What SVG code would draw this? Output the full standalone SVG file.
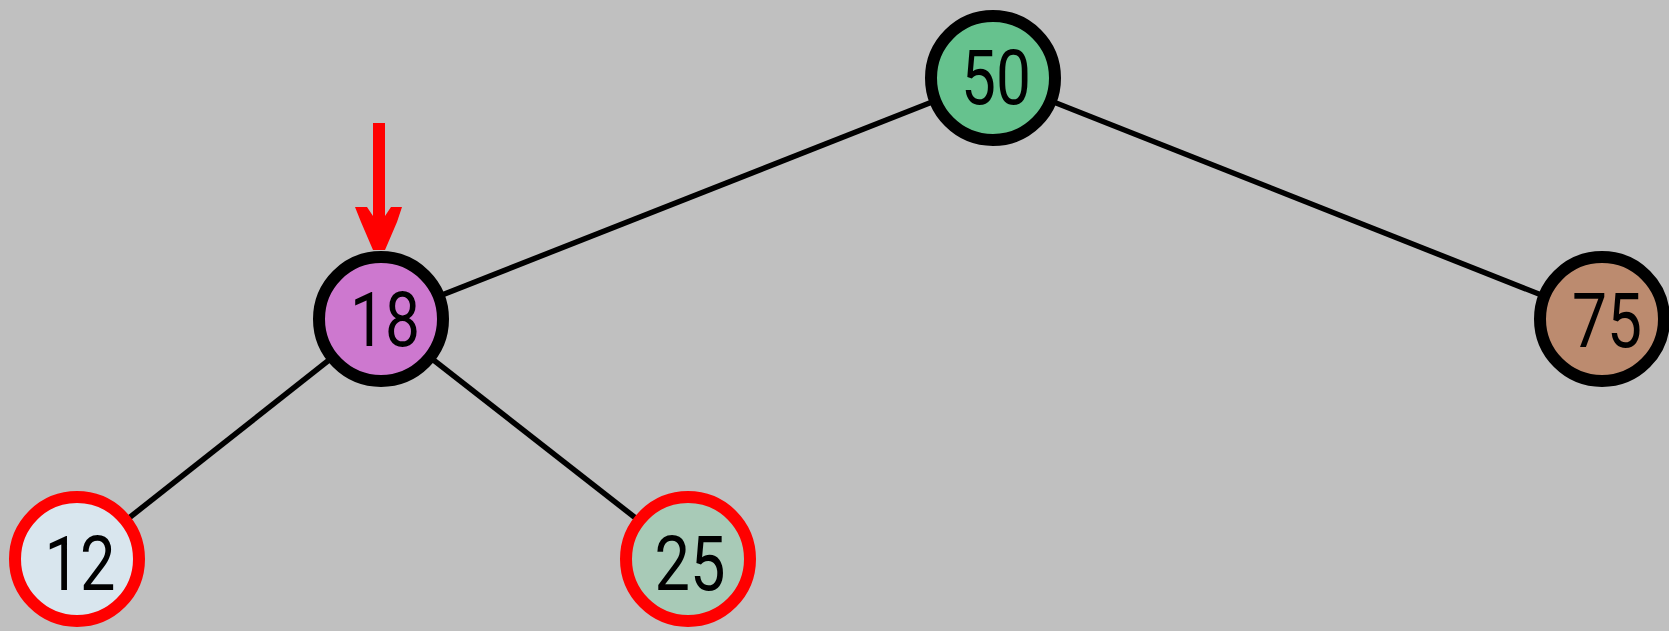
<svg xmlns="http://www.w3.org/2000/svg" width="1669" height="631" viewBox="0 0 1669 631">
  <style>
    .ring { stroke-width: 12; }
    .black { stroke: #000000; }
    .red { stroke: #ff0000; }
    .edge { stroke: #000000; stroke-width: 5.5; fill: none; }
    .lbl { font-family: Roboto, "Liberation Sans", Arial, sans-serif; font-weight: 400; font-size: 76px; fill: #000000; text-anchor: middle; }
  </style>
  <rect x="0" y="0" width="1669" height="631" fill="#c0c0c0"/>

  <!-- tree edges -->
  <g id="edges">
    <line class="edge" x1="993" y1="78" x2="381" y2="319"/>
    <line class="edge" x1="993" y1="78" x2="1602" y2="319"/>
    <line class="edge" x1="381" y1="319" x2="77" y2="559"/>
    <line class="edge" x1="381" y1="319" x2="688" y2="559"/>
  </g>

  <!-- nodes -->
  <g id="node-50">
    <circle class="ring black" cx="993" cy="78" r="62" fill="#66c28e"/>
    <text class="lbl" x="996" y="104" textLength="70" lengthAdjust="spacingAndGlyphs">50</text>
  </g>
  <g id="node-18">
    <circle class="ring black" cx="381" cy="319" r="62" fill="#cd78cf"/>
    <text class="lbl" x="385" y="346" textLength="70" lengthAdjust="spacingAndGlyphs">18</text>
  </g>
  <g id="node-75">
    <circle class="ring black" cx="1602" cy="319" r="62" fill="#bc8b6f"/>
    <text class="lbl" x="1607" y="347" textLength="70" lengthAdjust="spacingAndGlyphs">75</text>
  </g>
  <g id="node-12">
    <circle class="ring red" cx="77" cy="559" r="62" fill="#d9e6ee"/>
    <text class="lbl" x="80" y="590" textLength="71" lengthAdjust="spacingAndGlyphs">12</text>
  </g>
  <g id="node-25">
    <circle class="ring red" cx="688" cy="559" r="62" fill="#a8cab7"/>
    <text class="lbl" x="690" y="590" textLength="71" lengthAdjust="spacingAndGlyphs">25</text>
  </g>

  <!-- current-node pointer -->
  <g id="pointer" fill="#ff0000">
    <rect x="373" y="123" width="12" height="100"/>
    <polygon points="355,207 367,207 373,216 385,216 391,207 402,207 397,222 385,250 373,250 361,222"/>
  </g>
</svg>
